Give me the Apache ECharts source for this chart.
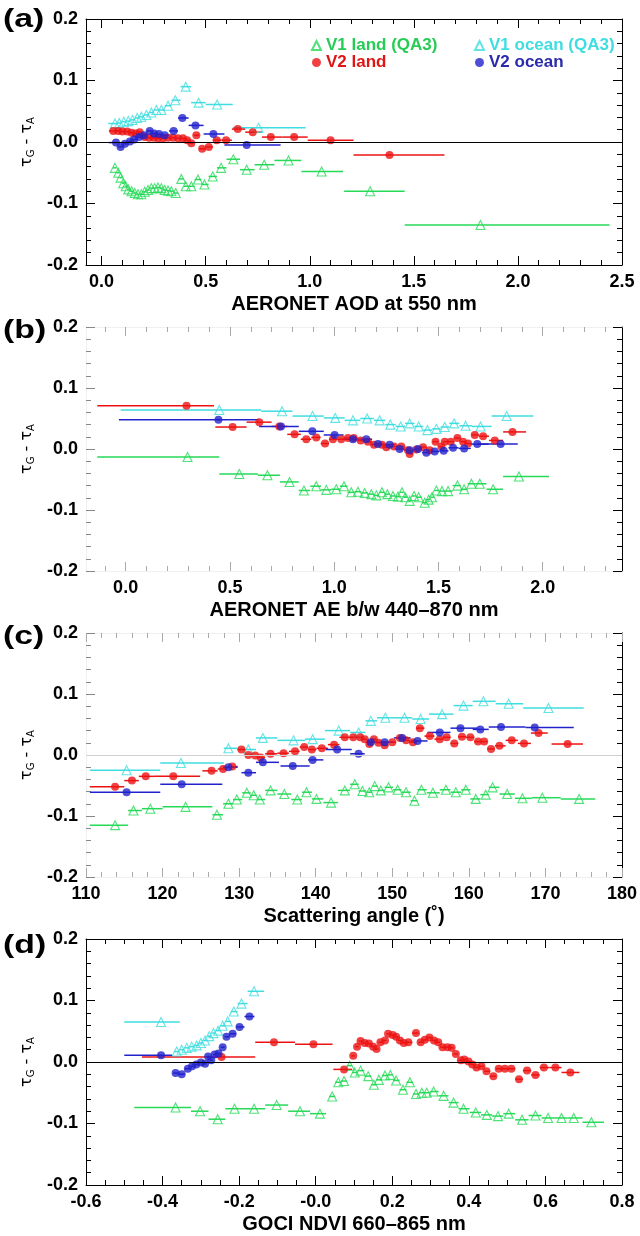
<!DOCTYPE html>
<html><head><meta charset="utf-8">
<script src="https://cdn.jsdelivr.net/npm/echarts@6/dist/echarts.min.js"></script>
<style>html,body{margin:0;padding:0;background:#fff}#c{width:640px;height:1236px}</style>
</head><body><div id="c"></div>
<script>
// ---------- DATA: each point [x, y(τG-τA), xErrLow, xErrHigh] ----------
const seriesNames = ['V1 land (QA3)', 'V1 ocean (QA3)', 'V2 land', 'V2 ocean'];

// Panel (a): AERONET AOD at 550 nm
const aV1Land = [[0.064,-0.042,0.055,0.072],[0.080,-0.050,0.072,0.086],[0.091,-0.058,0.086,0.098],[0.104,-0.067,0.098,0.110],[0.116,-0.072,0.110,0.122],[0.128,-0.077,0.122,0.136],[0.144,-0.080,0.136,0.152],[0.159,-0.083,0.152,0.167],[0.175,-0.085,0.167,0.183],[0.191,-0.085,0.183,0.199],[0.207,-0.081,0.199,0.215],[0.223,-0.078,0.215,0.231],[0.239,-0.075,0.231,0.247],[0.255,-0.075,0.247,0.263],[0.271,-0.074,0.263,0.279],[0.287,-0.075,0.279,0.295],[0.303,-0.078,0.295,0.311],[0.319,-0.079,0.311,0.327],[0.335,-0.080,0.327,0.345],[0.356,-0.083,0.345,0.368],[0.383,-0.060,0.370,0.395],[0.404,-0.072,0.395,0.418],[0.431,-0.072,0.418,0.447],[0.463,-0.061,0.447,0.479],[0.494,-0.069,0.479,0.514],[0.534,-0.056,0.514,0.554],[0.574,-0.042,0.554,0.600],[0.633,-0.028,0.600,0.665],[0.697,-0.045,0.665,0.735],[0.781,-0.037,0.735,0.830],[0.898,-0.030,0.830,0.960],[1.057,-0.048,0.960,1.160],[1.290,-0.080,1.165,1.456],[1.820,-0.135,1.456,2.440]];
const aV1Ocean = [[0.064,0.030,0.032,0.075],[0.085,0.031,0.075,0.096],[0.107,0.033,0.096,0.118],[0.128,0.034,0.118,0.138],[0.148,0.036,0.138,0.160],[0.171,0.039,0.160,0.181],[0.191,0.041,0.181,0.203],[0.215,0.044,0.203,0.227],[0.239,0.048,0.227,0.251],[0.263,0.052,0.251,0.275],[0.287,0.052,0.275,0.303],[0.319,0.059,0.303,0.336],[0.354,0.068,0.336,0.379],[0.404,0.090,0.379,0.430],[0.466,0.064,0.430,0.500],[0.555,0.061,0.500,0.630],[0.754,0.023,0.630,0.980]];
const aV2Land = [[0.056,0.018,0.035,0.068],[0.080,0.018,0.068,0.090],[0.100,0.017,0.090,0.111],[0.123,0.017,0.111,0.133],[0.144,0.015,0.133,0.154],[0.164,0.014,0.154,0.173],[0.183,0.016,0.173,0.195],[0.207,0.008,0.195,0.217],[0.228,0.007,0.217,0.239],[0.250,0.007,0.239,0.260],[0.271,0.006,0.260,0.283],[0.295,0.006,0.283,0.307],[0.319,0.007,0.307,0.331],[0.343,0.007,0.331,0.355],[0.367,0.006,0.355,0.379],[0.391,0.006,0.379,0.401],[0.411,0.003,0.401,0.421],[0.431,-0.002,0.421,0.443],[0.455,0.011,0.443,0.469],[0.483,-0.011,0.469,0.499],[0.515,-0.008,0.499,0.534],[0.553,0.003,0.534,0.575],[0.598,0.003,0.575,0.626],[0.654,0.021,0.626,0.690],[0.726,0.016,0.690,0.770],[0.813,0.008,0.770,0.870],[0.925,0.008,0.870,0.990],[1.100,0.003,0.990,1.210],[1.383,-0.021,1.210,1.647]];
const aV2Ocean = [[0.069,-0.001,0.035,0.080],[0.091,-0.008,0.080,0.101],[0.112,-0.003,0.101,0.124],[0.136,0.001,0.124,0.146],[0.156,0.004,0.146,0.168],[0.180,0.008,0.168,0.191],[0.203,0.011,0.191,0.217],[0.231,0.018,0.217,0.241],[0.252,0.014,0.241,0.264],[0.276,0.013,0.264,0.289],[0.303,0.011,0.289,0.324],[0.346,0.018,0.324,0.367],[0.388,0.039,0.367,0.418],[0.451,0.027,0.418,0.490],[0.537,0.013,0.490,0.590],[0.697,-0.005,0.590,0.860]];

// Panel (b): AERONET AE b/w 440-870 nm
const bV1Land = [[0.297,-0.013,-0.136,0.449],[0.545,-0.041,0.449,0.634],[0.680,-0.043,0.634,0.740],[0.786,-0.054,0.740,0.830],[0.855,-0.068,0.830,0.885],[0.914,-0.061,0.885,0.937],[0.962,-0.067,0.937,0.986],[1.010,-0.066,0.986,1.028],[1.047,-0.061,1.028,1.064],[1.082,-0.071,1.064,1.098],[1.114,-0.070,1.098,1.130],[1.146,-0.072,1.130,1.162],[1.178,-0.074,1.162,1.190],[1.202,-0.076,1.190,1.215],[1.229,-0.071,1.215,1.242],[1.255,-0.074,1.242,1.268],[1.282,-0.077,1.268,1.294],[1.306,-0.078,1.294,1.316],[1.325,-0.071,1.316,1.333],[1.341,-0.079,1.333,1.351],[1.362,-0.085,1.351,1.372],[1.383,-0.077,1.372,1.394],[1.405,-0.079,1.394,1.420],[1.434,-0.088,1.420,1.444],[1.453,-0.083,1.444,1.461],[1.469,-0.079,1.461,1.480],[1.490,-0.068,1.480,1.504],[1.517,-0.069,1.504,1.532],[1.546,-0.069,1.532,1.568],[1.591,-0.060,1.568,1.607],[1.623,-0.066,1.607,1.640],[1.658,-0.057,1.640,1.678],[1.698,-0.057,1.678,1.730],[1.762,-0.066,1.730,1.810],[1.886,-0.045,1.810,2.030]];
const bV1Ocean = [[0.449,0.064,-0.024,0.650],[0.750,0.062,0.650,0.800],[0.896,0.054,0.800,0.950],[1.005,0.051,0.950,1.050],[1.090,0.047,1.050,1.125],[1.158,0.050,1.125,1.190],[1.218,0.047,1.190,1.245],[1.269,0.040,1.245,1.295],[1.319,0.037,1.295,1.340],[1.362,0.042,1.340,1.385],[1.405,0.037,1.385,1.427],[1.447,0.031,1.427,1.470],[1.490,0.033,1.470,1.510],[1.530,0.036,1.510,1.552],[1.575,0.042,1.552,1.600],[1.630,0.038,1.600,1.660],[1.702,0.037,1.660,1.755],[1.827,0.054,1.755,1.955]];
const bV2Land = [[0.292,0.071,-0.136,0.424],[0.513,0.036,0.430,0.580],[0.641,0.044,0.580,0.700],[0.737,0.037,0.700,0.775],[0.810,0.024,0.775,0.840],[0.866,0.016,0.840,0.890],[0.914,0.019,0.890,0.935],[0.956,0.009,0.935,0.975],[0.994,0.016,0.975,1.014],[1.034,0.016,1.014,1.050],[1.066,0.018,1.050,1.080],[1.094,0.018,1.080,1.110],[1.127,0.014,1.110,1.145],[1.162,0.012,1.145,1.176],[1.191,0.007,1.176,1.210],[1.229,0.007,1.210,1.240],[1.250,0.003,1.240,1.268],[1.287,0.004,1.268,1.305],[1.322,0.004,1.305,1.338],[1.354,-0.002,1.338,1.358],[1.362,-0.008,1.358,1.378],[1.394,-0.001,1.378,1.410],[1.426,0.003,1.410,1.442],[1.458,-0.002,1.442,1.472],[1.486,0.012,1.472,1.500],[1.514,0.004,1.500,1.522],[1.530,0.012,1.522,1.545],[1.559,0.012,1.545,1.575],[1.591,0.018,1.575,1.605],[1.618,0.012,1.605,1.630],[1.642,0.009,1.630,1.658],[1.674,0.023,1.658,1.694],[1.714,0.021,1.694,1.742],[1.770,0.014,1.742,1.810],[1.855,0.028,1.810,1.920]];
const bV2Ocean = [[0.445,0.048,-0.032,0.640],[0.745,0.037,0.640,0.830],[0.895,0.029,0.830,0.950],[1.002,0.023,0.950,1.045],[1.090,0.016,1.045,1.122],[1.154,0.016,1.122,1.182],[1.210,0.008,1.182,1.238],[1.266,0.007,1.238,1.290],[1.314,0.000,1.290,1.338],[1.362,-0.002,1.338,1.382],[1.402,0.000,1.382,1.422],[1.442,-0.006,1.422,1.462],[1.482,-0.004,1.462,1.504],[1.525,-0.003,1.504,1.548],[1.570,0.002,1.548,1.596],[1.623,0.001,1.596,1.655],[1.686,0.008,1.655,1.740],[1.798,0.008,1.690,1.880]];

// Panel (c): Scattering angle
const cV1Land = [[113.8,-0.115,110.5,115.5],[116.2,-0.091,115.5,117.3],[118.4,-0.088,117.3,120.0],[123.0,-0.085,120.0,126.5],[127.1,-0.098,126.5,127.9],[128.6,-0.080,127.9,129.2],[129.7,-0.073,129.2,130.4],[131.0,-0.062,130.4,131.5],[131.9,-0.066,131.5,132.3],[132.7,-0.073,132.3,133.4],[134.1,-0.058,133.4,135.0],[135.9,-0.064,135.0,136.8],[137.6,-0.073,136.8,138.2],[138.8,-0.061,138.2,139.5],[140.1,-0.072,139.5,141.0],[142.0,-0.078,141.0,142.9],[143.8,-0.058,142.9,144.5],[145.1,-0.048,144.5,145.6],[146.1,-0.059,145.6,146.6],[147.0,-0.061,146.6,147.4],[147.7,-0.051,147.4,148.1],[148.5,-0.058,148.1,149.0],[149.5,-0.053,149.0,150.1],[150.7,-0.057,150.1,151.2],[151.8,-0.061,151.2,152.4],[152.9,-0.075,152.4,153.3],[153.8,-0.057,153.3,154.5],[155.3,-0.062,154.5,156.2],[157.0,-0.057,156.2,157.6],[158.3,-0.061,157.6,159.0],[159.6,-0.057,159.0,160.2],[160.9,-0.072,160.2,161.5],[162.2,-0.065,161.5,162.6],[163.1,-0.053,162.6,164.0],[165.0,-0.064,164.0,166.0],[167.0,-0.071,166.0,168.2],[169.6,-0.070,168.2,172.0],[174.4,-0.072,172.0,176.5]];
const cV1Ocean = [[115.3,-0.025,110.5,119.7],[122.4,-0.013,119.7,128.0],[128.6,0.011,128.0,129.8],[131.2,0.009,129.8,132.2],[133.1,0.028,132.2,135.0],[137.1,0.024,135.0,138.6],[139.6,0.026,138.6,141.2],[143.0,0.040,141.2,144.5],[145.6,0.037,144.5,146.5],[147.2,0.056,146.5,148.0],[149.1,0.061,148.0,150.5],[151.6,0.061,150.5,152.6],[153.7,0.059,152.6,154.8],[156.5,0.067,154.8,158.0],[159.3,0.081,158.0,160.5],[161.9,0.088,160.5,163.5],[165.2,0.084,163.5,167.1],[170.4,0.077,167.1,175.0]];
const cV2Land = [[113.8,-0.052,110.5,115.0],[116.0,-0.042,115.0,116.9],[117.8,-0.035,116.9,119.0],[121.4,-0.035,119.0,124.9],[126.4,-0.026,125.2,127.2],[127.9,-0.023,127.2,128.5],[129.1,-0.019,128.5,129.8],[130.3,0.009,129.8,130.8],[131.2,0.000,130.8,131.7],[132.1,-0.001,131.7,132.5],[132.8,-0.004,132.5,133.4],[134.1,0.002,133.4,135.0],[135.8,0.003,135.0,136.5],[137.3,0.006,136.5,137.9],[138.5,0.013,137.9,139.0],[139.5,0.009,139.0,140.1],[140.8,0.011,140.1,141.6],[142.4,0.017,141.6,143.1],[143.8,0.029,143.1,144.3],[144.9,0.029,144.3,145.3],[145.8,0.029,145.3,146.1],[146.4,0.026,146.1,146.7],[147.0,0.018,146.7,147.3],[147.6,0.026,147.3,147.9],[148.2,0.020,147.9,148.6],[149.0,0.016,148.6,149.5],[150.0,0.021,149.5,150.5],[151.0,0.028,150.5,151.4],[151.8,0.024,151.4,152.2],[152.7,0.021,152.2,153.1],[153.6,0.044,153.1,154.2],[154.9,0.031,154.2,155.5],[156.2,0.026,155.5,156.6],[157.1,0.029,156.6,157.6],[158.1,0.019,157.6,158.6],[159.1,0.030,158.6,159.6],[160.2,0.029,159.6,160.7],[161.2,0.022,160.7,161.6],[162.0,0.022,161.6,162.4],[162.9,0.010,162.4,163.4],[164.0,0.015,163.4,164.8],[165.6,0.024,164.8,166.4],[167.2,0.019,166.4,168.1],[169.1,0.036,168.1,170.3],[172.9,0.018,170.8,174.9]];
const cV2Ocean = [[115.3,-0.061,110.5,119.7],[122.5,-0.048,119.7,127.8],[128.6,-0.020,127.9,129.8],[131.2,-0.029,130.3,132.2],[133.1,-0.012,132.2,135.2],[137.0,-0.018,135.4,139.2],[139.6,-0.008,139.0,141.0],[142.8,0.009,141.3,144.7],[145.6,0.002,144.5,146.4],[147.2,0.021,146.6,148.2],[149.0,0.021,148.2,150.2],[151.3,0.028,150.2,152.4],[153.3,0.023,152.4,154.6],[156.2,0.037,154.6,157.6],[158.9,0.044,157.6,161.1],[161.5,0.042,160.5,162.6],[164.2,0.046,162.6,167.4],[168.6,0.045,167.4,173.7]];

// Panel (d): GOCI NDVI 660-865 nm
const dV1Land = [[-0.366,-0.074,-0.474,-0.326],[-0.302,-0.080,-0.326,-0.280],[-0.256,-0.093,-0.280,-0.236],[-0.212,-0.076,-0.236,-0.185],[-0.161,-0.076,-0.185,-0.132],[-0.102,-0.070,-0.132,-0.072],[-0.041,-0.080,-0.072,-0.015],[0.011,-0.084,-0.015,0.027],[0.043,-0.056,0.035,0.051],[0.059,-0.033,0.051,0.066],[0.074,-0.031,0.066,0.081],[0.089,-0.006,0.081,0.095],[0.102,-0.017,0.095,0.109],[0.117,-0.014,0.109,0.127],[0.137,-0.023,0.127,0.145],[0.152,-0.037,0.145,0.158],[0.165,-0.029,0.158,0.173],[0.181,-0.022,0.173,0.188],[0.195,-0.021,0.188,0.202],[0.210,-0.030,0.202,0.219],[0.228,-0.045,0.219,0.237],[0.246,-0.033,0.237,0.254],[0.262,-0.052,0.254,0.270],[0.277,-0.050,0.270,0.283],[0.290,-0.050,0.283,0.299],[0.308,-0.048,0.299,0.321],[0.334,-0.055,0.321,0.347],[0.360,-0.066,0.347,0.373],[0.386,-0.076,0.373,0.402],[0.418,-0.082,0.402,0.432],[0.447,-0.086,0.432,0.461],[0.476,-0.088,0.461,0.490],[0.504,-0.084,0.490,0.521],[0.539,-0.094,0.521,0.556],[0.574,-0.087,0.556,0.590],[0.607,-0.091,0.590,0.624],[0.642,-0.091,0.624,0.658],[0.674,-0.091,0.658,0.697],[0.720,-0.098,0.697,0.753]];
const dV1Ocean = [[-0.404,0.065,-0.500,-0.355],[-0.363,0.017,-0.370,-0.356],[-0.350,0.020,-0.356,-0.343],[-0.337,0.023,-0.343,-0.330],[-0.324,0.025,-0.330,-0.317],[-0.311,0.027,-0.317,-0.305],[-0.300,0.031,-0.305,-0.294],[-0.289,0.035,-0.294,-0.283],[-0.278,0.042,-0.283,-0.272],[-0.267,0.047,-0.272,-0.261],[-0.255,0.051,-0.261,-0.249],[-0.243,0.059,-0.249,-0.236],[-0.230,0.066,-0.236,-0.222],[-0.214,0.082,-0.222,-0.204],[-0.194,0.095,-0.204,-0.178],[-0.161,0.115,-0.178,-0.135]];
const dV2Land = [[-0.246,0.008,-0.454,-0.158],[-0.109,0.032,-0.158,-0.054],[-0.006,0.029,-0.054,0.044],[0.074,-0.012,0.046,0.095],[0.098,0.010,0.093,0.103],[0.108,0.025,0.103,0.112],[0.117,0.034,0.112,0.122],[0.128,0.031,0.122,0.133],[0.139,0.030,0.133,0.144],[0.150,0.025,0.144,0.154],[0.159,0.021,0.154,0.164],[0.169,0.032,0.164,0.175],[0.181,0.035,0.175,0.185],[0.189,0.046,0.185,0.195],[0.201,0.044,0.195,0.205],[0.210,0.041,0.205,0.215],[0.220,0.035,0.215,0.225],[0.230,0.031,0.225,0.236],[0.242,0.032,0.236,0.252],[0.262,0.047,0.252,0.268],[0.274,0.032,0.268,0.279],[0.285,0.036,0.279,0.291],[0.297,0.040,0.291,0.303],[0.309,0.035,0.303,0.314],[0.320,0.032,0.314,0.325],[0.331,0.024,0.325,0.337],[0.344,0.024,0.337,0.349],[0.355,0.023,0.349,0.360],[0.366,0.013,0.360,0.372],[0.379,0.003,0.372,0.383],[0.388,0.004,0.383,0.393],[0.399,0.001,0.393,0.404],[0.409,-0.004,0.404,0.414],[0.420,-0.009,0.414,0.426],[0.433,-0.007,0.426,0.440],[0.446,-0.015,0.440,0.455],[0.464,-0.023,0.455,0.471],[0.478,-0.011,0.471,0.486],[0.494,-0.011,0.486,0.502],[0.511,-0.011,0.502,0.521],[0.531,-0.028,0.521,0.541],[0.552,-0.014,0.541,0.563],[0.574,-0.021,0.563,0.585],[0.596,-0.009,0.585,0.611],[0.626,-0.009,0.611,0.642],[0.665,-0.017,0.642,0.689]];
const dV2Ocean = [[-0.404,0.011,-0.500,-0.375],[-0.366,-0.018,-0.372,-0.358],[-0.350,-0.020,-0.358,-0.342],[-0.334,-0.011,-0.342,-0.328],[-0.323,-0.007,-0.328,-0.317],[-0.312,-0.004,-0.317,-0.306],[-0.300,-0.001,-0.306,-0.295],[-0.289,-0.003,-0.295,-0.285],[-0.281,0.009,-0.285,-0.277],[-0.273,0.003,-0.277,-0.268],[-0.264,0.012,-0.268,-0.259],[-0.254,0.014,-0.259,-0.248],[-0.243,0.024,-0.248,-0.238],[-0.233,0.041,-0.238,-0.225],[-0.217,0.046,-0.225,-0.208],[-0.199,0.057,-0.208,-0.186],[-0.173,0.074,-0.186,-0.160]];

// ---------- TICKS ----------
const yTicks = [-0.2, -0.1, 0, 0.1, 0.2];
const yTickLabels = ['-0.2', '-0.1', '0.0', '0.1', '0.2'];
const yMinor = [-0.18,-0.16,-0.14,-0.12,-0.08,-0.06,-0.04,-0.02,0.02,0.04,0.06,0.08,0.12,0.14,0.16,0.18];
const aXTicks = [0, 0.5, 1, 1.5, 2, 2.5];
const aXLabels = ['0.0', '0.5', '1.0', '1.5', '2.0', '2.5'];
const aXMinor = [0.1,0.2,0.3,0.4,0.6,0.7,0.8,0.9,1.1,1.2,1.3,1.4,1.6,1.7,1.8,1.9,2.1,2.2,2.3,2.4];
const bXTicks = [0, 0.5, 1, 1.5, 2];
const bXLabels = ['0.0', '0.5', '1.0', '1.5', '2.0'];
const bXMinor = [-0.1,0.1,0.2,0.3,0.4,0.6,0.7,0.8,0.9,1.1,1.2,1.3,1.4,1.6,1.7,1.8,1.9,2.1,2.2,2.3];
const cXTicks = [110, 120, 130, 140, 150, 160, 170, 180];
const cXLabels = ['110', '120', '130', '140', '150', '160', '170', '180'];
const cXMinor = [112,114,116,118,122,124,126,128,132,134,136,138,142,144,146,148,152,154,156,158,162,164,166,168,172,174,176,178];
const dXTicks = [-0.6, -0.4, -0.2, 0, 0.2, 0.4, 0.6, 0.8];
const dXLabels = ['-0.6', '-0.4', '-0.2', '-0.0', '0.2', '0.4', '0.6', '0.8'];
const dXMinor = [-0.55,-0.5,-0.45,-0.35,-0.3,-0.25,-0.15,-0.1,-0.05,0.05,0.1,0.15,0.25,0.3,0.35,0.45,0.5,0.55,0.65,0.7,0.75];

// ---------- STYLE ----------
const FONT = '"Liberation Sans", Arial, Helvetica, sans-serif';
const COLORS = ['#26d957', '#3fdde0', '#ec1313', '#2222cc'];
const SYMBOLS = ['triangle', 'triangle', 'circle', 'circle'];
const LEGEND_TEXT = ['#26cc55', '#3fdde0', '#e01515', '#2a2aaa'];

const panels = [
  {label:'(a)', labelY:7, top:19, height:246, xmin:-0.075, xmax:2.5, xTicks:aXTicks, xLabels:aXLabels, xMinor:aXMinor, xName:'AERONET AOD at 550 nm', faint:false, zero:'#000', sets:[aV1Land, aV1Ocean, aV2Land, aV2Ocean]},
  {label:'(b)', labelY:318, top:327, height:244, xmin:-0.19, xmax:2.38, xTicks:bXTicks, xLabels:bXLabels, xMinor:bXMinor, xName:'AERONET AE b/w 440\u2013870 nm', faint:true, zero:null, sets:[bV1Land, bV1Ocean, bV2Land, bV2Ocean]},
  {label:'(c)', labelY:624, top:633, height:244, xmin:110, xmax:180, xTicks:cXTicks, xLabels:cXLabels, xMinor:cXMinor, xName:'Scattering angle (\u02da)', faint:true, zero:'#d0d0d0', sets:[cV1Land, cV1Ocean, cV2Land, cV2Ocean]},
  {label:'(d)', labelY:933, top:939, height:246, xmin:-0.6, xmax:0.8, xTicks:dXTicks, xLabels:dXLabels, xMinor:dXMinor, xName:'GOCI NDVI 660\u2013865 nm', faint:false, zero:'#000', sets:[dV1Land, dV1Ocean, dV2Land, dV2Ocean]}
];

const grids = [], xAxes = [], yAxes = [], series = [], graphics = [];

function lookup(ticks, labels, v) {
  for (let i = 0; i < ticks.length; i++) if (Math.abs(ticks[i] - v) < 1e-9) return labels[i];
  return '';
}

panels.forEach((P, p) => {
  grids.push({left:86, right:18, top:P.top, height:P.height, outerBoundsMode:'none', containLabel:false});
  const lineCol = P.faint ? '#f0f0f0' : '#000';
  const tickCol = P.faint ? '#aaaaaa' : '#000';
  const base = {gridIndex:p, type:'value', min:P.xmin, max:P.xmax, splitLine:{show:false}, axisPointer:{show:false}};
  xAxes.push(Object.assign({}, base, {
    position:'bottom', name:P.xName, nameLocation:'middle', nameGap:29,
    nameTextStyle:{fontSize:20, fontWeight:'bold', color:'#000', fontFamily:FONT},
    axisLine:{show:true, onZero:false, lineStyle:{color:lineCol, width:1}},
    axisTick:{show:true, inside:true, length:9, customValues:P.xTicks, lineStyle:{color:tickCol}},
    axisLabel:{show:true, customValues:P.xTicks, formatter:(v)=>lookup(P.xTicks, P.xLabels, v), margin:8, fontSize:18, fontWeight:'bold', color:'#000', fontFamily:FONT}
  }));
  xAxes.push(Object.assign({}, base, {position:'bottom', axisLine:{show:false, onZero:false}, axisTick:{show:true, inside:true, length:5, customValues:P.xMinor, lineStyle:{color:tickCol}}, axisLabel:{show:false}}));
  xAxes.push(Object.assign({}, base, {position:'top', axisLine:{show:true, onZero:false, lineStyle:{color:lineCol, width:1}}, axisTick:{show:true, inside:true, length:9, customValues:P.xTicks, lineStyle:{color:tickCol}}, axisLabel:{show:false}}));
  xAxes.push(Object.assign({}, base, {position:'top', axisLine:{show:false, onZero:false}, axisTick:{show:true, inside:true, length:5, customValues:P.xMinor, lineStyle:{color:tickCol}}, axisLabel:{show:false}}));

  const ybase = {gridIndex:p, type:'value', min:-0.2, max:0.2, splitLine:{show:false}, axisPointer:{show:false}};
  const leftTick = P.faint ? '#888' : '#000';
  yAxes.push(Object.assign({}, ybase, {
    position:'left', name:'{t|\u03c4}{s|G}{t| - \u03c4}{s|A}', nameLocation:'middle', nameGap:49, nameRotate:90,
    nameTextStyle:{color:'#000', rich:{t:{fontSize:16, lineHeight:18, fontFamily:'"DejaVu Sans", sans-serif', color:'#000'}, s:{fontSize:10, lineHeight:10, verticalAlign:'bottom', fontFamily:'"DejaVu Sans", sans-serif', color:'#000'}}},
    axisLine:{show:true, onZero:false, lineStyle:{color:lineCol, width:1}},
    axisTick:{show:true, inside:true, length:9, customValues:yTicks, lineStyle:{color:leftTick}},
    axisLabel:{show:true, customValues:yTicks, formatter:(v)=>lookup(yTicks, yTickLabels, v), margin:8, fontSize:18, fontWeight:'bold', color:'#000', fontFamily:FONT}
  }));
  yAxes.push(Object.assign({}, ybase, {position:'left', axisLine:{show:false, onZero:false}, axisTick:{show:true, inside:true, length:5, customValues:yMinor, lineStyle:{color:leftTick}}, axisLabel:{show:false}}));
  yAxes.push(Object.assign({}, ybase, {position:'right', axisLine:{show:true, onZero:false, lineStyle:{color:'#000', width:1}}, axisTick:{show:true, inside:true, length:9, customValues:yTicks, lineStyle:{color:'#000'}}, axisLabel:{show:false}}));
  yAxes.push(Object.assign({}, ybase, {position:'right', axisLine:{show:false, onZero:false}, axisTick:{show:true, inside:true, length:5, customValues:yMinor, lineStyle:{color:'#000'}}, axisLabel:{show:false}}));

  const xi = p * 4, yi = p * 4;
  P.sets.forEach((data, k) => {
    const s = {
      type:'custom', name:'err-' + p + '-' + k, xAxisIndex:xi, yAxisIndex:yi, data:data, z:2, clip:true,
      encode:{x:0, y:1},
      renderItem:(params, api) => {
        const y = api.value(1);
        const a = api.coord([api.value(2), y]);
        const b = api.coord([api.value(3), y]);
        return {type:'line', shape:{x1:a[0], y1:a[1], x2:b[0], y2:b[1]}, style:{stroke:COLORS[k], lineWidth:1.5}};
      },
      silent:true, animation:false
    };
    if (k === 0 && P.zero) {
      s.markLine = {silent:true, symbol:'none', animation:false, label:{show:false}, lineStyle:{color:P.zero, width:1, type:'solid'}, data:[{yAxis:0}]};
    }
    series.push(s);
  });
  P.sets.forEach((data, k) => {
    const hollow = SYMBOLS[k] === 'triangle';
    series.push({
      type:'scatter', name:seriesNames[k], xAxisIndex:xi, yAxisIndex:yi, data:data, z:3,
      symbol:SYMBOLS[k], symbolSize: hollow ? 9 : 8,
      itemStyle: hollow ? {color:'rgba(255,255,255,0)', borderColor:COLORS[k], borderWidth:1.1} : {color:COLORS[k], borderWidth:0},
      encode:{x:0, y:1}, silent:true, animation:false
    });
  });

  graphics.push({type:'text', x:3, y:P.labelY, scaleX:1.3, style:{text:P.label, font:'bold 26px ' + FONT, fill:'#000', verticalAlign:'top'}});
});

const legendText = {fontSize:17, fontWeight:'bold', fontFamily:FONT, lineHeight:15};
const chart = echarts.init(document.getElementById('c'), null, {renderer:'canvas'});
chart.setOption({
  animation:false,
  backgroundColor:'#fff',
  grid:grids, xAxis:xAxes, yAxis:yAxes, series:series,
  legend:[
    {orient:'vertical', left:306, top:32, itemWidth:9, itemHeight:9, itemGap:0, selectedMode:false, textStyle:legendText,
     data:[{name:seriesNames[0], textStyle:{color:LEGEND_TEXT[0]}}, {name:seriesNames[2], textStyle:{color:LEGEND_TEXT[2]}}]},
    {orient:'vertical', left:469, top:32, itemWidth:9, itemHeight:9, itemGap:0, selectedMode:false, textStyle:legendText,
     data:[{name:seriesNames[1], textStyle:{color:LEGEND_TEXT[1]}}, {name:seriesNames[3], textStyle:{color:LEGEND_TEXT[3]}}]}
  ],
  graphic:graphics
});
</script></body></html>
